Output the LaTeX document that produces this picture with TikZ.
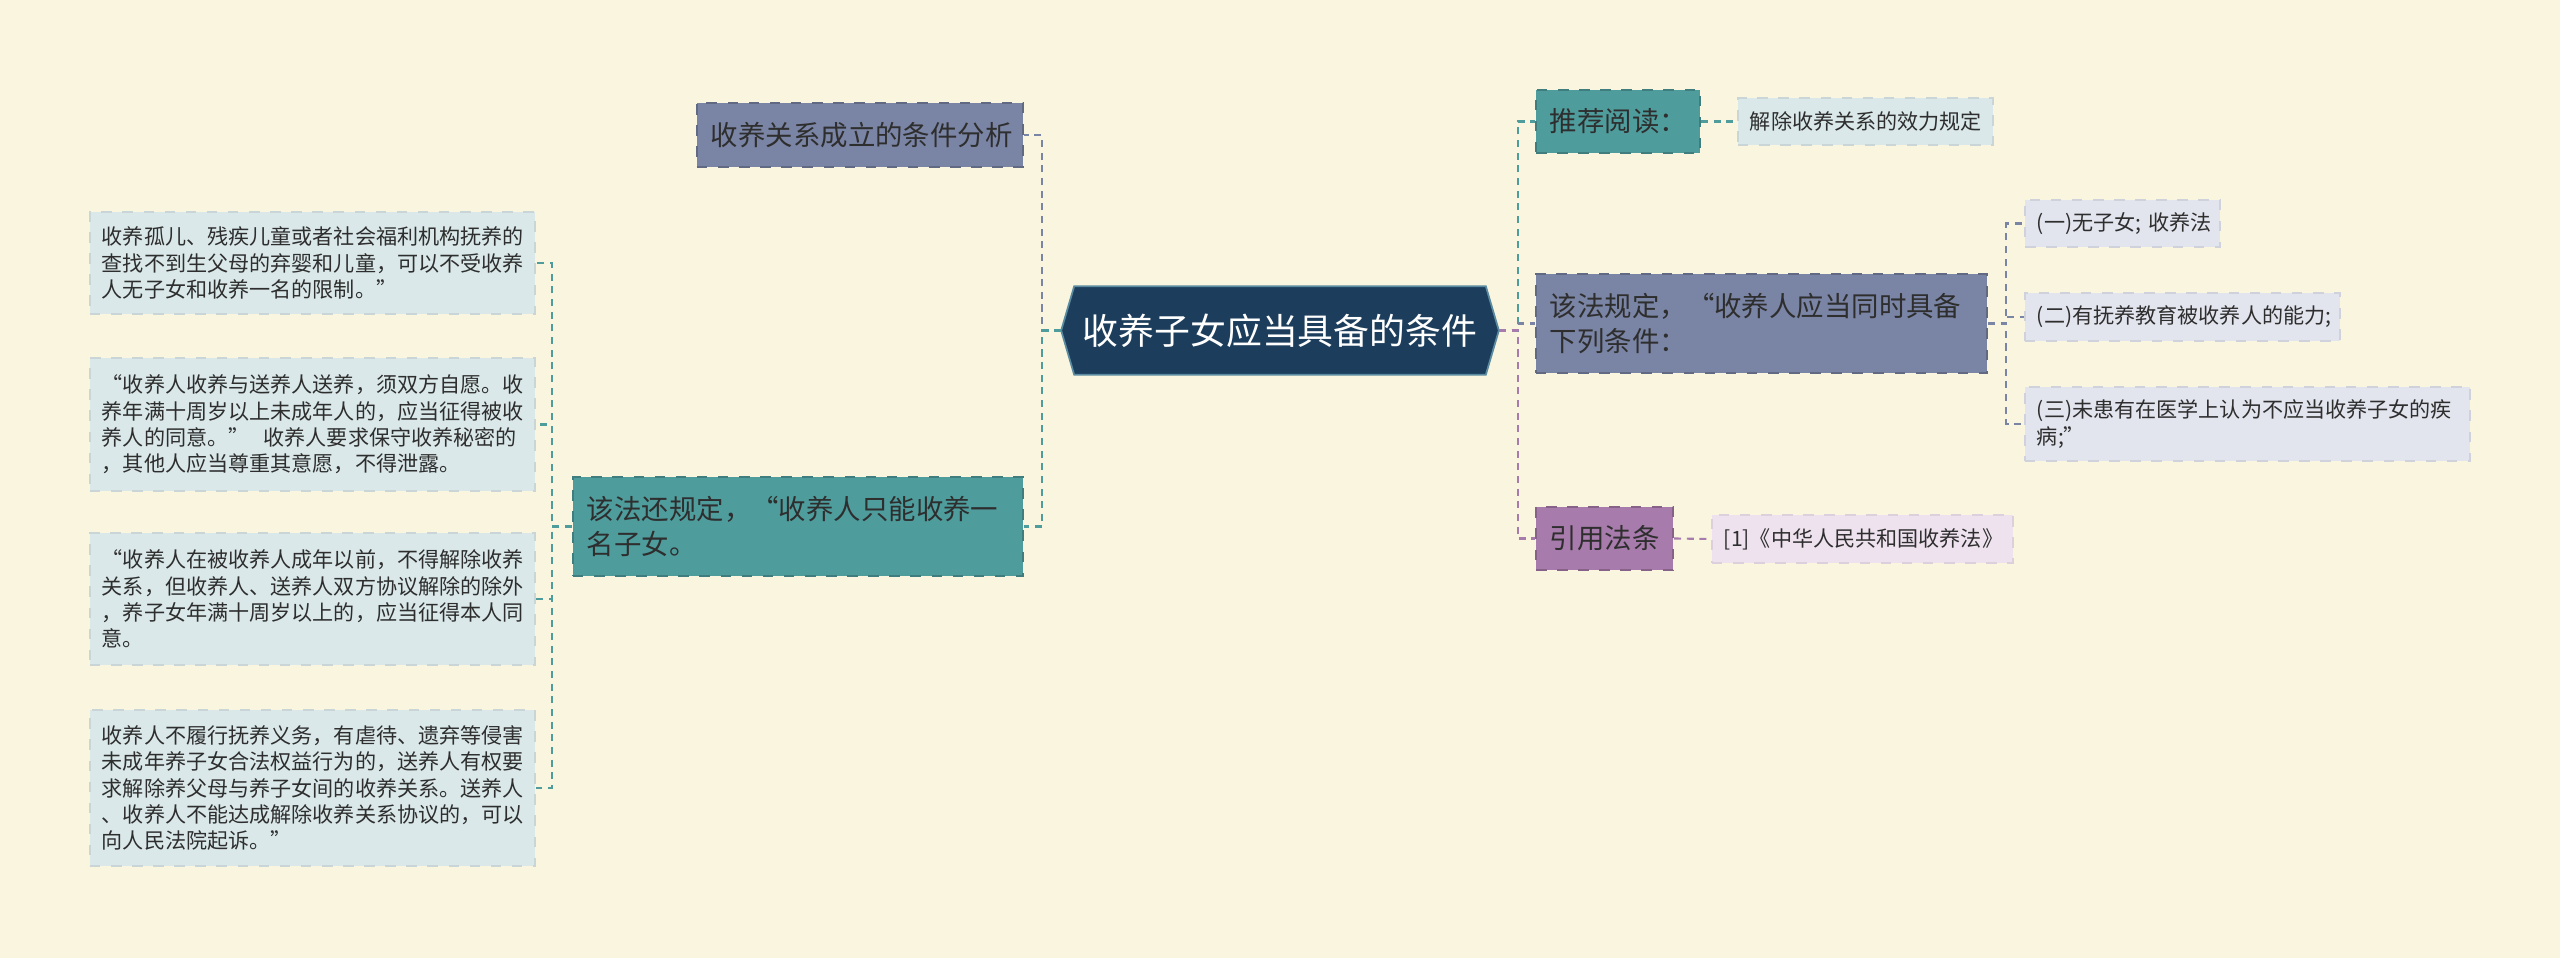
\documentclass[tikz,border=0pt]{standalone}
\usepackage{fontspec}
\newfontfamily\cjk{Noto Sans CJK SC}
\usetikzlibrary{backgrounds}

\definecolor{paper}{HTML}{FAF5DE}
\definecolor{navy}{HTML}{1C3E5C}
\definecolor{navyedge}{HTML}{5A8BA0}
\definecolor{slate}{HTML}{7A84A4}
\definecolor{sea}{HTML}{4F9C9D}
\definecolor{mauve}{HTML}{A77BAB}
\definecolor{ink}{HTML}{2E2E2E}
\definecolor{paleblue}{HTML}{DAE8E9}
\definecolor{palegray}{HTML}{E2E4EE}
\definecolor{palepink}{HTML}{EEE2EF}

\tikzset{
  rootbox/.style={minimum width=4.36cm, minimum height=0.87cm, inner sep=0pt,
    text=white, font=\cjk\fontsize{10.2}{13}\selectfont},
  topic/.style={draw=#1!80!black, fill=#1, dashed, line width=0.6pt, text=ink,
    align=left, inner xsep=0.14cm, inner ysep=0pt, font=\cjk\fontsize{7.8}{10}\selectfont},
  leaf/.style={draw=#1!92!black, fill=#1, dashed, line width=0.4pt, text=ink,
    align=left, inner xsep=0.12cm, inner ysep=0pt, font=\cjk\fontsize{6}{7.5}\selectfont},
  link/.style={draw=#1, dashed, dash pattern=on 2pt off 1.6pt, line width=0.6pt},
}

\begin{document}
\begin{tikzpicture}[x=0.01cm, y=-0.01cm]
  \useasboundingbox (0,0) rectangle (2560,958);

  % centre
  \node[rootbox] (root) at (1280,330.5) {收养子女应当具备的条件};

  % left branches
  \node[topic=slate, text width=2.98cm, minimum height=0.64cm] (cond) at (860,135) {收养关系成立的条件分析};
  \node[topic=sea, text width=4.22cm, minimum height=0.99cm] (only) at (798,526.5)
    {该法还规定，“收养人只能收养一\\名子女。};

  \node[leaf=paleblue, text width=4.21cm, minimum height=1.02cm] (orph) at (312.5,263)
    {收养孤儿、残疾儿童或者社会福利机构抚养的\\查找不到生父母的弃婴和儿童，可以不受收养\\人无子女和收养一名的限制。”};
  \node[leaf=paleblue, text width=4.21cm, minimum height=1.33cm] (will) at (312.5,424.5)
    {“收养人收养与送养人送养，须双方自愿。收\\养年满十周岁以上未成年人的，应当征得被收\\养人的同意。” \ 收养人要求保守收养秘密的\\，其他人应当尊重其意愿，不得泄露。};
  \node[leaf=paleblue, text width=4.21cm, minimum height=1.32cm] (undo) at (312.5,599)
    {“收养人在被收养人成年以前，不得解除收养\\关系，但收养人、送养人双方协议解除的除外\\，养子女年满十周岁以上的，应当征得本人同\\意。};
  \node[leaf=paleblue, text width=4.21cm, minimum height=1.56cm] (sue) at (312.5,788)
    {收养人不履行抚养义务，有虐待、遗弃等侵害\\未成年养子女合法权益行为的，送养人有权要\\求解除养父母与养子女间的收养关系。送养人\\、收养人不能达成解除收养关系协议的，可以\\向人民法院起诉。”};

  % right branches
  \node[topic=sea, text width=1.36cm, minimum height=0.63cm] (read) at (1618,121.5) {推荐阅读：};
  \node[leaf=paleblue, text width=2.31cm, minimum height=0.47cm] (readA) at (1865.5,121.5) {解除收养关系的效力规定};

  \node[topic=slate, text width=4.23cm, minimum height=0.99cm] (rule) at (1761.5,323.5)
    {该法规定，“收养人应当同时具备\\下列条件：};
  \node[leaf=palegray, text width=1.71cm, minimum height=0.47cm] (ruleA) at (2122.5,223.5) {(一)无子女;~收养法};
  \node[leaf=palegray, text width=2.91cm, minimum height=0.48cm] (ruleB) at (2182.5,317) {(二)有抚养教育被收养人的能力;};
  \node[leaf=palegray, text width=4.21cm, minimum height=0.74cm] (ruleC) at (2247.5,424)
    {(三)未患有在医学上认为不应当收养子女的疾\\病;”};

  \node[topic=mauve, text width=1.09cm, minimum height=0.63cm] (law) at (1604.5,538.5) {引用法条};
  \node[leaf=palepink, text width=2.77cm, minimum height=0.48cm] (lawA) at (1862.5,539) {[1]《中华人民共和国收养法》};

  \begin{scope}[on background layer]
    \fill[paper] (0,0) rectangle (2560,958);
    \filldraw[fill=navy, draw=navyedge, line width=0.5pt]
      (root.west) -- ([xshift=0.13cm]root.north west) -- ([xshift=-0.13cm]root.north east)
      -- (root.east) -- ([xshift=-0.13cm]root.south east) -- ([xshift=0.13cm]root.south west) -- cycle;
  \end{scope}

  % connectors
  \draw[link=slate] (root.west) -- ++(-19,0) |- (cond.east);
  \draw[link=sea] (root.west) -- ++(-19,0) |- (only.east);
  \foreach \leafname in {orph,will,undo,sue}
    \draw[link=sea] (only.west) -- ++(-20,0) |- (\leafname.east);

  \draw[link=sea] (root.east) -- ++(19,0) |- (read.west);
  \draw[link=slate] (root.east) -- ++(19,0) |- (rule.west);
  \draw[link=mauve] (root.east) -- ++(19,0) |- (law.west);

  \draw[link=sea] (read.east) -- (readA.west);
  \foreach \leafname in {ruleA,ruleB,ruleC}
    \draw[link=slate] (rule.east) -- ++(18,0) |- (\leafname.west);
  \draw[link=mauve] (law.east) -- (lawA.west);
\end{tikzpicture}
\end{document}
